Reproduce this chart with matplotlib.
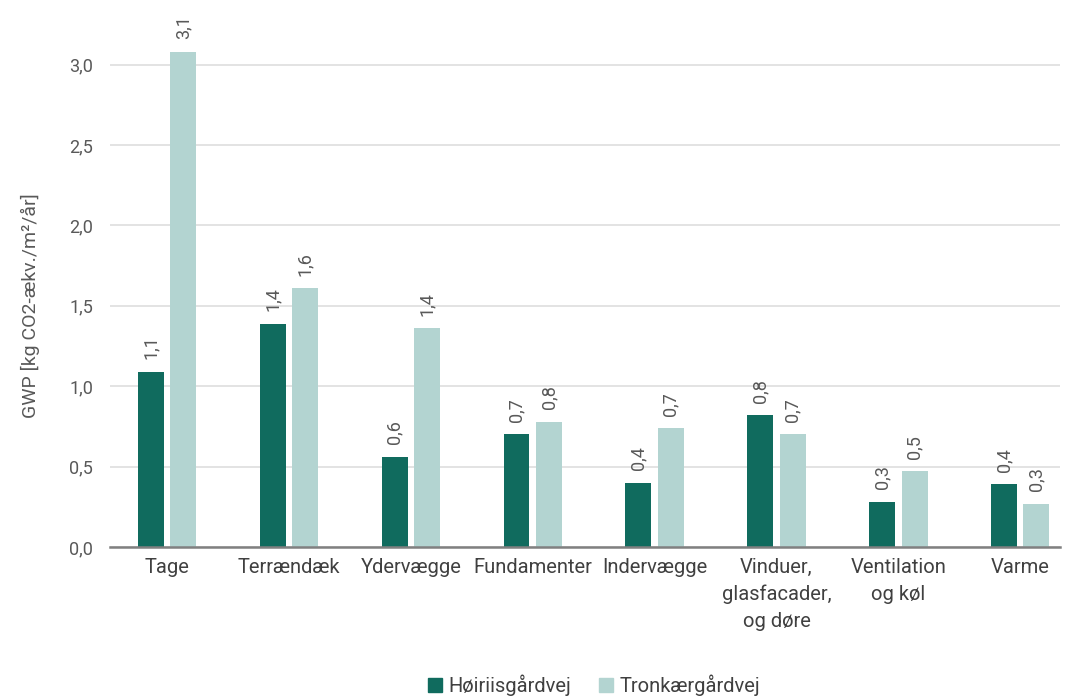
import matplotlib
matplotlib.use("Agg")
import matplotlib.pyplot as plt
from matplotlib.patches import Patch
import numpy as np

categories = ["Tage", "Terrændæk", "Ydervægge", "Fundamenter", "Indervægge",
              "Vinduer,\nglasfacader,\nog døre", "Ventilation\nog køl", "Varme"]
hoiriis = [1.09, 1.39, 0.56, 0.70, 0.40, 0.82, 0.28, 0.39]
tronkaer = [3.08, 1.61, 1.36, 0.78, 0.74, 0.70, 0.47, 0.27]
series_names = ["Høiriisgårdvej", "Tronkærgårdvej"]
yticks = [0.0, 0.5, 1.0, 1.5, 2.0, 2.5, 3.0]

dark = "#106b5e"
light = "#b3d4d1"
txt = "#595959"

plt.rcParams['font.family'] = ['Roboto', 'DejaVu Sans']

fig = plt.figure(figsize=(10.75, 6.97), dpi=100)
ax = fig.add_axes([110/1075, 1-547/697, 950/1075, 537/697])

x = np.arange(len(categories))
w = 0.213
off = 0.133
b1 = ax.bar(x - off, hoiriis, w, color=dark, zorder=3)
b2 = ax.bar(x + off, tronkaer, w, color=light, zorder=3)

def fmt(v):
    return f"{v:.1f}".replace(".", ",")

for bars, vals in ((b1, hoiriis), (b2, tronkaer)):
    for r, v in zip(bars, vals):
        ax.annotate(fmt(v), (r.get_x() + r.get_width()/2, v), xytext=(0, 9),
                    textcoords="offset points", rotation=90, ha="center", va="bottom",
                    fontsize=13, color=txt)

ax.set_xlim(-0.468, 7.326)
ax.set_ylim(0, 3.34)
ax.set_yticks(yticks)
ax.set_yticklabels([fmt(v) for v in yticks], fontsize=13, color=txt)
ax.set_xticks(x)
ax.set_xticklabels(categories, fontsize=14.5, color="#404040", linespacing=1.5)
ax.tick_params(axis="x", length=0, pad=8)
ax.tick_params(axis="y", length=0, pad=12)
ax.yaxis.grid(True, color="#dedede", linewidth=1.2, zorder=0)
ax.set_axisbelow(True)
for s in ["top", "right", "left"]:
    ax.spines[s].set_visible(False)
ax.spines["bottom"].set_color("#808080")
ax.spines["bottom"].set_linewidth(1.8)
ax.spines["bottom"].set_zorder(4)

ax.set_ylabel("GWP [kg CO2-ækv./m²/år]", fontsize=14, color=txt)
ax.yaxis.set_label_coords(-0.074, 0.45)

handles = [Patch(color=dark), Patch(color=light)]
fig.legend(handles, series_names, loc="center", bbox_to_anchor=(594/1075, 1-685/697),
           ncol=2, frameon=False, fontsize=14.5, handlelength=0.7, handleheight=0.7,
           handletextpad=0.3, columnspacing=1.4, labelcolor="#404040")

fig.savefig("out.png", dpi=100)
